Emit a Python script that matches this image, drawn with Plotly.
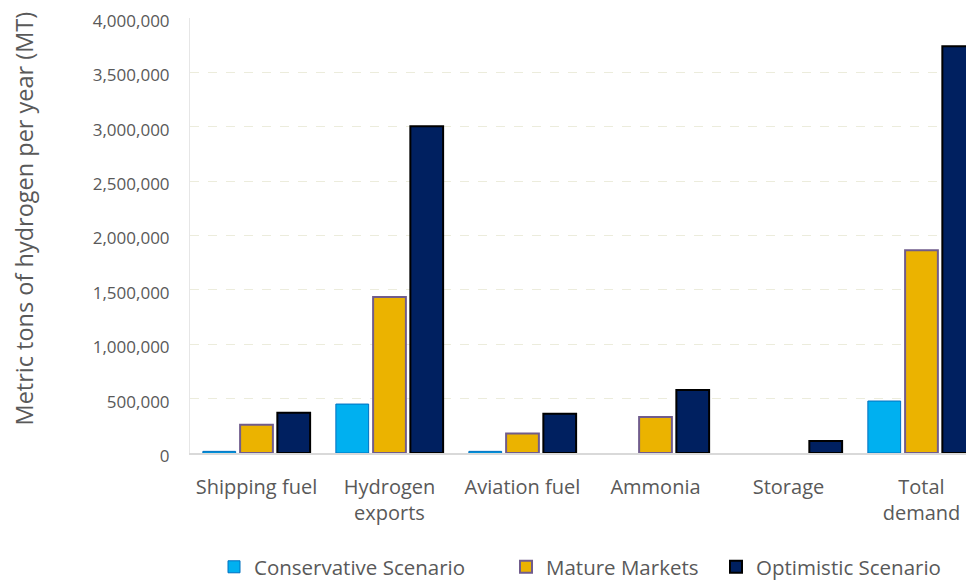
import plotly.graph_objects as go

categories = ["Shipping fuel", "Hydrogen<br>exports", "Aviation fuel", "Ammonia", "Storage", "Total<br>demand"]
conservative = [15000, 450000, 15000, None, None, 478000]
mature = [260000, 1435000, 180000, 330000, None, 1865000]
optimistic = [370000, 3005000, 360000, 580000, 110000, 3740000]
y_ticks = [0, 500000, 1000000, 1500000, 2000000, 2500000, 3000000, 3500000, 4000000]
y_title = "Metric tons of hydrogen per year (MT)"

FONT = "Open Sans"
GREY = "#595959"

# page body has an 8px margin; positions below are figure pixels
L, T, PW, PH = 182, 10, 792, 435

fig = go.Figure()
fig.add_trace(go.Bar(name="Conservative Scenario", x=categories, y=conservative,
                     marker=dict(color="#00B0F0", line=dict(color="#0070C0", width=1)),
                     legend="legend"))
fig.add_trace(go.Bar(name="Mature Markets", x=categories, y=mature,
                     marker=dict(color="#EBB300", line=dict(color="#705C8C", width=2)),
                     legend="legend2"))
fig.add_trace(go.Bar(name="Optimistic Scenario", x=categories, y=optimistic,
                     marker=dict(color="#002060", line=dict(color="#000000", width=2)),
                     legend="legend3"))

leg_common = dict(orientation="h", yanchor="middle", y=-0.262, xanchor="left",
                  font=dict(family=FONT, size=20.5, color=GREY), bgcolor="rgba(0,0,0,0)")

fig.update_layout(
    width=974, height=580,
    margin=dict(l=L, r=0, t=T, b=580 - T - PH),
    paper_bgcolor="white", plot_bgcolor="white",
    barmode="group", bargap=0.16, bargroupgap=0.12,
    showlegend=True,
    legend=dict(x=(206 - L) / PW, **leg_common),
    legend2=dict(x=(498 - L) / PW, **leg_common),
    legend3=dict(x=(708 - L) / PW, **leg_common),
    xaxis=dict(range=[-0.5, 5.455], showgrid=False, showline=True, linecolor="#D9D9D9",
               linewidth=2, ticks="outside", ticklen=15, tickcolor="rgba(0,0,0,0)",
               tickfont=dict(family=FONT, size=20, color=GREY), automargin=False),
    yaxis=dict(range=[0, 4000000], tickvals=y_ticks, tickformat=",", showgrid=True,
               gridcolor="#ECECDC", griddash="dash", gridwidth=1, zeroline=False,
               showline=True, linecolor="#E6E6E6", linewidth=1,
               ticks="outside", ticklen=16, tickcolor="rgba(0,0,0,0)",
               ticklabeloverflow="allow", ticklabelshift=3,
               tickfont=dict(family=FONT, size=17, color=GREY), automargin=False),
    annotations=[dict(text=y_title, textangle=-90, xref="paper", yref="paper",
                      x=0, y=(445 - 210.5) / PH, xanchor="center", yanchor="middle",
                      xshift=16 - L, showarrow=False,
                      font=dict(family=FONT, size=23.5, color=GREY))],
)

fig.write_html("out.html")
